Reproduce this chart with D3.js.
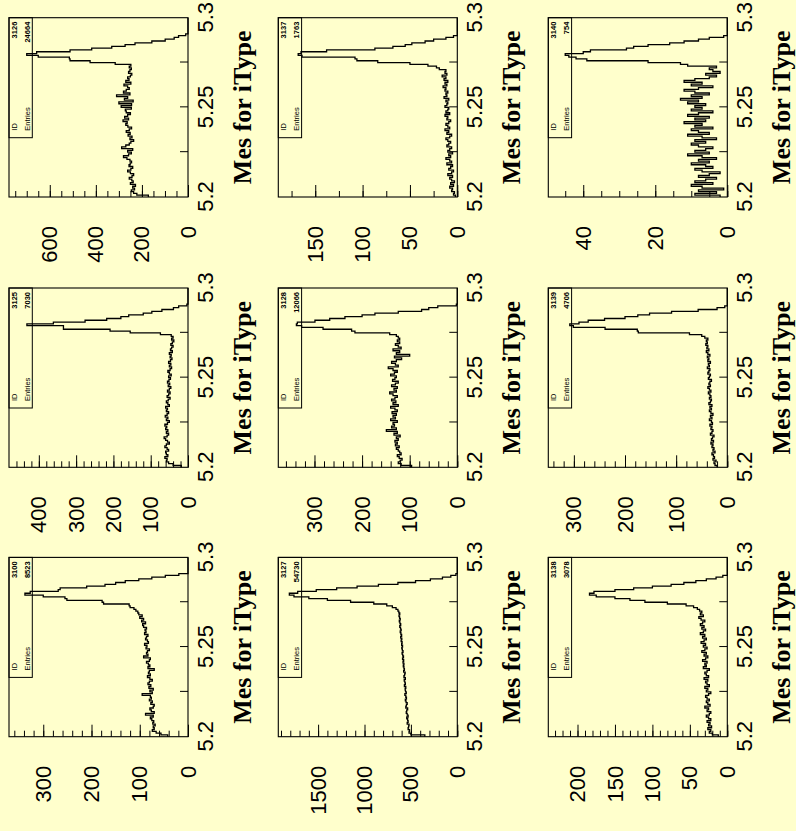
<!DOCTYPE html>
<html>
<head>
<meta charset="utf-8">
<script src="https://cdn.jsdelivr.net/npm/d3@7"></script>
<style>
    html, body { margin: 0; padding: 0; background: #ffffcc; }
    svg { display: block; }
</style>
</head>
<body>
<svg id="chart" width="796" height="831"></svg>
<script>
/* Mes histograms, 3 x 3, landscape page turned on its side */

const histIds = [3100, 3125, 3126, 3127, 3128, 3137, 3138, 3139, 3140];
const histEntries = [8523, 7030, 24664, 54730, 12066, 1763, 3078, 4706, 754];
const axisTitle = "Mes for iType";

const massLow = 5.2;
const massHigh = 5.3;
const xTickValues = [5.225, 5.25, 5.275];
const xLabelValues = [5.2, 5.25, 5.3];

const yTop = [371, 480, 777, 1929, 376, 189, 239, 350, 49.7];
const yLabelValues = [
    [0, 100, 200, 300],
    [0, 100, 200, 300, 400],
    [0, 200, 400, 600],
    [0, 500, 1000, 1500],
    [0, 100, 200, 300],
    [0, 50, 100, 150],
    [0, 50, 100, 150, 200],
    [0, 100, 200, 300],
    [0, 20, 40]
];
const yMinorStep = [20, 20, 50, 100, 20, 25, 10, 20, 5];

const counts3100 = [
    42, 56, 66, 74, 70, 72, 68, 73, 71, 75,
    78, 72, 88, 70, 76, 79, 72, 70, 77, 74,
    80, 76, 78, 95, 74, 79, 72, 81, 77, 83,
    80, 74, 79, 84, 78, 82, 80, 70, 83, 79,
    82, 86, 80, 78, 92, 83, 86, 84, 80, 87,
    85, 90, 82, 84, 88, 86, 83, 90, 87, 89,
    86, 92, 94, 88, 96, 92, 100, 95, 102, 104,
    108, 112, 120, 122, 175, 178, 251, 255, 300, 338,
    327, 269, 265, 210, 172, 150, 130, 102, 75, 47,
    19, 0, 0, 0, 0, 0, 0, 0, 0, 0
];
const counts3125 = [
    18, 40, 52, 58, 56, 62, 54, 58, 60, 52,
    56, 62, 58, 50, 55, 60, 64, 56, 52, 58,
    54, 60, 57, 62, 55, 50, 58, 54, 61, 56,
    52, 58, 55, 60, 50, 54, 58, 53, 48, 56,
    52, 48, 55, 50, 46, 53, 49, 55, 51, 47,
    52, 45, 50, 54, 48, 44, 50, 46, 52, 47,
    43, 48, 45, 50, 42, 47, 44, 40, 46, 42,
    38, 44, 40, 45, 74, 155, 209, 334, 334, 432,
    361, 276, 218, 180, 159, 120, 97, 70, 39, 25,
    3, 0, 0, 0, 0, 0, 0, 0, 0, 0
];
const counts3126 = [
    172, 222, 236, 246, 232, 240, 228, 250, 238, 244,
    255, 243, 236, 250, 262, 248, 240, 256, 251, 245,
    252, 265, 280, 258, 246, 262, 240, 288, 270, 255,
    248, 236, 252, 243, 260, 251, 268, 255, 245, 261,
    270, 264, 282, 258, 275, 262, 250, 268, 272, 246,
    290, 245, 300, 238, 276, 262, 310, 252, 280, 268,
    255, 262, 278, 248, 270, 256, 262, 250, 244, 258,
    252, 246, 255, 248, 316, 425, 512, 515, 650, 700,
    657, 512, 418, 331, 273, 230, 157, 99, 60, 41,
    10, 0, 0, 0, 0, 0, 0, 0, 0, 0
];
const counts3127 = [
    350, 500, 520, 515, 530, 525, 520, 540, 530, 535,
    545, 530, 540, 550, 545, 535, 555, 548, 540, 552,
    560, 548, 555, 565, 550, 558, 562, 555, 570, 560,
    565, 572, 560, 575, 568, 562, 578, 570, 575, 582,
    575, 585, 578, 590, 580, 588, 595, 585, 592, 598,
    590, 600, 595, 605, 598, 610, 600, 608, 615, 605,
    612, 620, 610, 618, 625, 615, 622, 628, 620, 630,
    640, 660, 700, 760, 900, 1150, 1400, 1600, 1760, 1810,
    1720, 1520, 1300, 1080, 850, 640, 450, 290, 160, 70,
    15, 0, 0, 0, 0, 0, 0, 0, 0, 0
];
const counts3128 = [
    96, 118, 124, 120, 116, 122, 126, 118, 121, 124,
    128, 122, 130, 126, 131, 124, 128, 120, 133, 126,
    149, 128, 138, 132, 135, 126, 140, 130, 135, 128,
    137, 126, 131, 140, 124, 135, 129, 138, 131, 126,
    135, 142, 128, 133, 126, 138, 130, 124, 136, 131,
    128, 140, 132, 126, 135, 145, 124, 130, 138, 128,
    117, 132, 100, 128, 121, 135, 118, 124, 130, 121,
    126, 121, 124, 128, 142, 215, 222, 282, 327, 338,
    336, 299, 268, 236, 200, 173, 124, 75, 60, 41,
    2, 0, 0, 0, 0, 0, 0, 0, 0, 0
];
const counts3137 = [
    2, 4, 3, 6, 5, 8, 4, 7, 3, 6,
    8, 5, 10, 6, 4, 9, 7, 5, 11, 6,
    8, 12, 7, 9, 5, 10, 8, 6, 11, 9,
    7, 10, 12, 8, 6, 11, 9, 13, 8, 10,
    12, 9, 7, 11, 10, 13, 8, 12, 10, 9,
    13, 11, 10, 12, 9, 14, 11, 12, 10, 13,
    12, 15, 11, 13, 10, 14, 12, 16, 11, 13,
    12, 19, 22, 31, 50, 84, 106, 108, 164, 168,
    165, 138, 87, 68, 55, 48, 34, 25, 12, 4,
    0, 0, 0, 0, 0, 0, 0, 0, 0, 0
];
const counts3138 = [
    12, 20, 24, 22, 26, 21, 25, 23, 27, 22,
    25, 28, 24, 22, 27, 25, 30, 23, 26, 28,
    24, 27, 29, 25, 22, 28, 26, 30, 24, 27,
    29, 26, 31, 25, 28, 30, 27, 24, 32, 28,
    30, 27, 33, 29, 26, 31, 28, 34, 30, 27,
    32, 29, 35, 31, 28, 33, 30, 36, 32, 29,
    34, 31, 36, 33, 30, 35, 38, 32, 36, 34,
    37, 40, 45, 55, 80, 110, 130, 150, 175, 184,
    178, 150, 125, 100, 75, 58, 42, 28, 15, 6,
    0, 0, 0, 0, 0, 0, 0, 0, 0, 0
];
const counts3139 = [
    20, 24, 26, 22, 28, 25, 27, 30, 24, 28,
    26, 30, 28, 32, 27, 31, 29, 26, 33, 30,
    28, 32, 30, 34, 29, 31, 35, 30, 33, 28,
    32, 35, 31, 34, 30, 36, 33, 31, 35, 32,
    34, 37, 32, 35, 38, 33, 36, 34, 31, 37,
    35, 33, 38, 36, 34, 39, 35, 37, 33, 38,
    36, 39, 34, 38, 41, 36, 40, 38, 42, 39,
    41, 38, 44, 50, 74, 174, 176, 239, 301, 308,
    290, 272, 240, 200, 175, 152, 109, 57, 20, 5,
    0, 0, 0, 0, 0, 0, 0, 0, 0, 0
];
const counts3140 = [
    2, 9, 3, 8, 1, 7, 10, 4, 9, 6,
    3, 8, 5, 2, 7, 9, 4, 6, 10, 5,
    8, 3, 7, 11, 5, 9, 6, 4, 8, 10,
    6, 9, 3, 7, 11, 5, 8, 10, 4, 9,
    7, 12, 6, 9, 5, 11, 8, 4, 10, 7,
    9, 6, 11, 8, 13, 7, 10, 5, 9, 12,
    8, 4, 10, 7, 12, 9, 5, 3, 6, 2,
    4, 5, 3, 11, 13, 22, 39, 42, 44, 45,
    40, 38, 28, 26, 22, 16, 12, 8, 5, 1,
    0, 0, 0, 0, 0, 0, 0, 0, 0, 0
];

const histCounts = [
    counts3100, counts3125, counts3126,
    counts3127, counts3128, counts3137,
    counts3138, counts3139, counts3140
];

// page is drawn landscape, then turned a quarter turn
const pageWidth = 831;
const colLeft = [94.3, 363.7, 634];
const rowTop = [9, 278.3, 548.3];
const frameW = 179.3;
const frameH = 179;

const svg = d3.select("#chart");
svg.append("rect")
    .attr("width", 796)
    .attr("height", 831)
    .attr("fill", "#ffffcc");

const page = svg.append("g")
    .attr("transform", `translate(0,${pageWidth}) rotate(-90)`);

function drawPanel(k) {
    const counts = histCounts[k];
    const g = page.append("g")
        .attr("transform", `translate(${colLeft[k % 3]},${rowTop[Math.floor(k / 3)]})`);

    const x = d3.scaleLinear().domain([massLow, massHigh]).range([0, frameW]);
    const y = d3.scaleLinear().domain([0, yTop[k]]).range([frameH, 0]);

    const binWidth = (massHigh - massLow) / counts.length;
    const points = counts.map((c, i) => [massLow + i * binWidth, c]);
    points.push([massHigh, counts[counts.length - 1]]);

    const line = d3.line()
        .x(d => x(d[0]))
        .y(d => y(d[1]))
        .curve(d3.curveStepAfter);

    g.append("path")
        .datum(points)
        .attr("d", line)
        .attr("fill", "none")
        .attr("stroke", "#000")
        .attr("stroke-width", 1.3);

    // minor and major ticks pointing into the frame
    const minor = d3.range(0, yTop[k], yMinorStep[k]);
    g.append("g")
        .call(d3.axisLeft(y).tickValues(minor).tickSize(-6).tickFormat(""))
        .call(a => a.select(".domain").remove());
    g.append("g")
        .call(d3.axisLeft(y).tickValues(yLabelValues[k]).tickSize(-12).tickFormat(""))
        .call(a => a.select(".domain").remove());
    g.append("g")
        .call(d3.axisLeft(y).tickValues(yLabelValues[k]).tickSize(0).tickPadding(29).tickFormat(d => String(d)))
        .call(a => a.select(".domain").remove())
        .selectAll("text")
        .attr("font-family", "'Liberation Sans', Arial, sans-serif")
        .attr("font-size", 22)
        .attr("fill", "#000");

    g.append("g")
        .attr("transform", `translate(0,${frameH})`)
        .call(d3.axisBottom(x).tickValues(xTickValues).tickSize(-8).tickFormat(""))
        .call(a => a.select(".domain").remove());
    g.append("g")
        .attr("transform", `translate(0,${frameH})`)
        .call(d3.axisBottom(x).tickValues(xLabelValues).tickSize(0).tickPadding(9.5).tickFormat(d => String(d)))
        .call(a => a.select(".domain").remove())
        .selectAll("text")
        .attr("font-family", "'Liberation Sans', Arial, sans-serif")
        .attr("font-size", 22)
        .attr("fill", "#000");

    g.selectAll(".tick line").attr("stroke", "#000").attr("stroke-width", 1);

    g.append("rect")
        .attr("width", frameW)
        .attr("height", frameH)
        .attr("fill", "none")
        .attr("stroke", "#000")
        .attr("stroke-width", 1.1);

    // stats box
    const box = g.append("g").attr("transform", `translate(${frameW - 120},0)`);
    box.append("rect")
        .attr("width", 120)
        .attr("height", 23.3)
        .attr("fill", "none")
        .attr("stroke", "#000")
        .attr("stroke-width", 1);
    const boxText = (tx, ty, str, anchor, weight) => box.append("text")
        .attr("x", tx)
        .attr("y", ty)
        .attr("text-anchor", anchor)
        .attr("font-family", "'Liberation Sans', Arial, sans-serif")
        .attr("font-size", 7.5)
        .attr("font-weight", weight)
        .text(str);
    boxText(7, 8, "ID", "start", "normal");
    boxText(7, 20.5, "Entries", "start", "normal");
    boxText(116, 8, String(histIds[k]), "end", "bold");
    boxText(116, 20.5, String(histEntries[k]), "end", "bold");

    g.append("text")
        .attr("x", frameW / 2)
        .attr("y", frameH + 63)
        .attr("text-anchor", "middle")
        .attr("font-family", "'Liberation Serif', 'Times New Roman', serif")
        .attr("font-weight", "bold")
        .attr("font-size", 26)
        .text(axisTitle);
}

histIds.forEach((id, k) => drawPanel(k));
</script>
</body>
</html>
